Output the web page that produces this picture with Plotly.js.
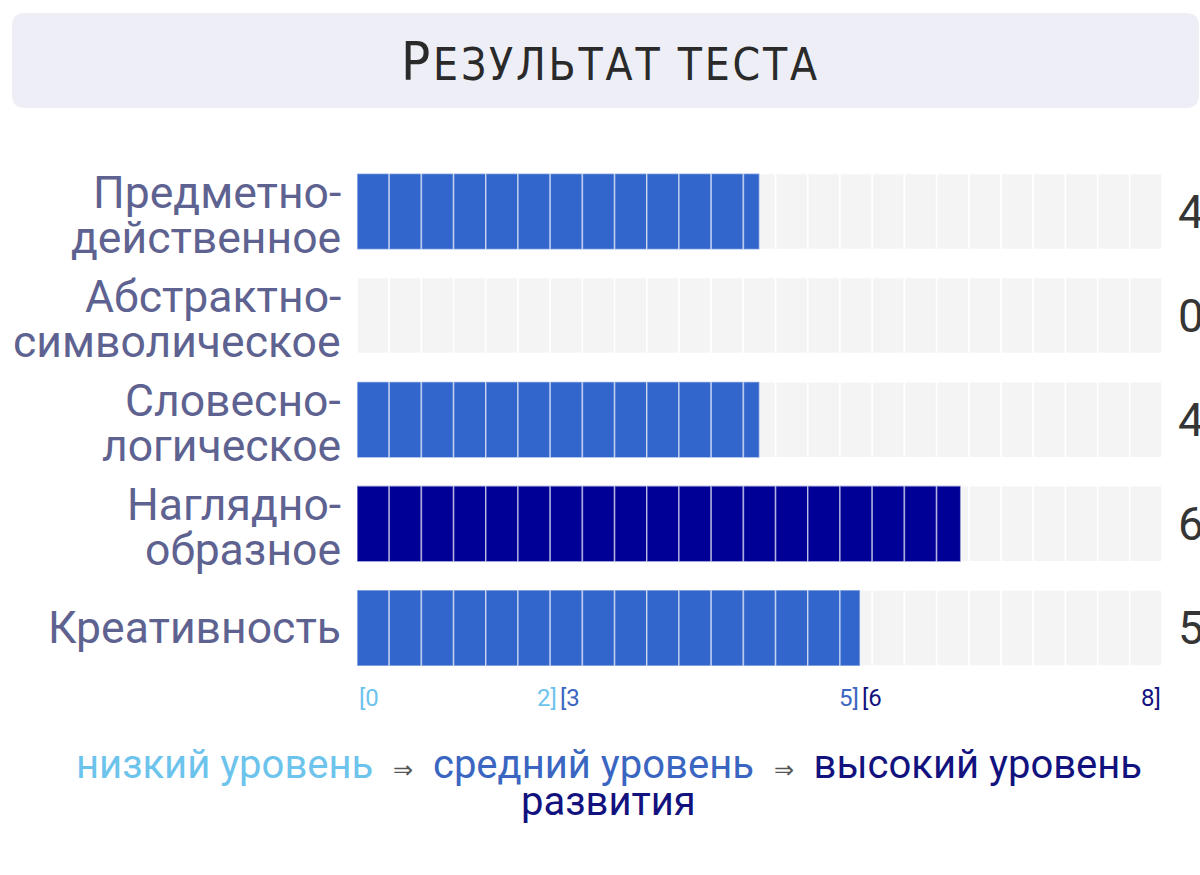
<!DOCTYPE html>
<html>
<head>
<meta charset="utf-8">
<script src="https://cdn.plot.ly/plotly-3.0.1.min.js"></script>
<style>html,body{margin:0;padding:0;background:#fff;}#chart{width:1200px;height:875px;}</style>
</head>
<body>
<div id="chart"></div>
<script>
// ---- data ----
const categories = ["Предметно-<br>действенное", "Абстрактно-<br>символическое", "Словесно-<br>логическое", "Наглядно-<br>образное", "Креативность"];
const values = [4, 0, 4, 6, 5];
const maxValue = 8;
const segmentCount = 25;
const tickPositions = [0, 2, 2, 5, 5, 8];
const tickLabels = ["[0", "2]", "[3", "5]", "[6", "8]"];
const tickLevels = ["low", "low", "mid", "mid", "high", "high"];
const levelNames = ["низкий уровень", "средний уровень", "высокий уровень"];
const levelSuffix = "развития";
const titleText = "Результат теста";

// ---- styles ----
const levelColors = {low: "#6fc5ee", mid: "#3366cc", high: "#000096"};
const levelTextColors = {low: "#6cc3ec", mid: "#3a66c2", high: "#12127e"};
function levelOf(v) { return v <= 2 ? "low" : (v <= 5 ? "mid" : "high"); }

const W = 1200, H = 875;
const M = {l: 357, r: 38, t: 157, b: 195};
const plotW = W - M.l - M.r, plotH = H - M.t - M.b;
const px2x = p => (p - M.l) / plotW;
const py2y = p => (H - M.b - p) / plotH;

const segW = maxValue / segmentCount;

// track trace
const trackY = [], trackBase = [], trackX = [];
categories.forEach(c => {
  for (let k = 0; k < segmentCount; k++) { trackY.push(c); trackBase.push(k * segW); trackX.push(segW); }
});
// value trace
const valY = [], valBase = [], valX = [], valCol = [];
categories.forEach((c, i) => {
  const v = values[i];
  for (let k = 0; k < segmentCount; k++) {
    const start = k * segW;
    if (v > start + 1e-9) {
      valY.push(c); valBase.push(start); valX.push(Math.min(segW, v - start));
      valCol.push(levelColors[levelOf(v)]);
    }
  }
});

const traces = [
  {type: "bar", orientation: "h", y: trackY, x: trackX, base: trackBase,
   marker: {color: "#f4f4f5", line: {color: "#ffffff", width: 1.5}}, hoverinfo: "skip", showlegend: false},
  {type: "bar", orientation: "h", y: valY, x: valX, base: valBase,
   marker: {color: valCol, line: {color: "rgba(255,255,255,0.5)", width: 1.6}}, hoverinfo: "skip", showlegend: false}
];

const annotations = [];
const labelFont = {family: "Roboto, 'Noto Sans', sans-serif", size: 44.5, color: "#5e6290"};
categories.forEach((c, i) => {
  const lines = c.split("<br>");
  const gap = 45;
  const extra = lines.length > 1 ? 4 : 0;
  lines.forEach((ln, j) => {
    const off = (j - (lines.length - 1) / 2) * gap + extra;
    annotations.push({xref: "paper", yref: "y", x: 0, y: c, text: ln, showarrow: false,
      xanchor: "right", yanchor: "middle", xshift: -14, yshift: -off, font: labelFont});
  });
  annotations.push({xref: "x", yref: "y", x: maxValue, y: c, text: String(values[i]), showarrow: false,
    xanchor: "left", yanchor: "middle", xshift: 14, yshift: 0,
    font: {family: "Roboto, sans-serif", size: 46, color: "#353535"}});
});
// tick labels
tickLabels.forEach((t, i) => {
  const isOpen = t.startsWith("[");
  annotations.push({xref: "x", yref: "paper", x: tickPositions[i], y: 0, text: t, showarrow: false,
    xanchor: isOpen ? "left" : "right", yanchor: "middle", yshift: -18, xshift: isOpen ? 0 : 1,
    font: {family: "Roboto, sans-serif", size: 24, color: levelTextColors[tickLevels[i]]}});
});
// legend line
const arrow = '  <span style="font-size:24px;color:#555555">⇒</span>  ';
const legendText = levelNames.map((n, i) =>
  '<span style="color:' + levelTextColors[["low", "mid", "high"][i]] + '">' + n + '</span>').join(arrow);
annotations.push({xref: "paper", yref: "paper", x: px2x(609), y: 0, text: legendText, showarrow: false,
  xanchor: "center", yanchor: "middle", yshift: -84,
  font: {family: "Roboto, sans-serif", size: 40, color: "#333"}});
annotations.push({xref: "paper", yref: "paper", x: px2x(608), y: 0, text: levelSuffix, showarrow: false,
  xanchor: "center", yanchor: "middle", yshift: -121,
  font: {family: "Roboto, sans-serif", size: 40, color: levelTextColors.high}});
// title
const tFirst = titleText.charAt(0).toUpperCase();
const tRest = titleText.slice(1).toUpperCase();
annotations.push({xref: "paper", yref: "paper", x: px2x(610), y: 1, text:
  '<span style="font-size:54px;letter-spacing:2.8px">' + tFirst + '</span><span style="letter-spacing:2.8px">' + tRest + '</span>', showarrow: false,
  xanchor: "center", yanchor: "middle", yshift: 157 - 61,
  font: {family: "'Liberation Sans Narrow', 'DejaVu Sans Condensed', 'Liberation Sans', sans-serif", size: 44, color: "#2a2a2a"}});

// title box (rounded)
function roundRect(x0, y0, x1, y1, r) {
  const P = (x, y) => px2x(x).toFixed(5) + "," + py2y(y).toFixed(5);
  return "M" + P(x0 + r, y0) + " L" + P(x1 - r, y0) + " Q" + P(x1, y0) + " " + P(x1, y0 + r) +
    " L" + P(x1, y1 - r) + " Q" + P(x1, y1) + " " + P(x1 - r, y1) +
    " L" + P(x0 + r, y1) + " Q" + P(x0, y1) + " " + P(x0, y1 - r) +
    " L" + P(x0, y0 + r) + " Q" + P(x0, y0) + " " + P(x0 + r, y0) + " Z";
}
const shapes = [{type: "path", xref: "paper", yref: "paper", path: roundRect(12, 13, 1199, 108, 13),
  fillcolor: "#eeeff6", line: {width: 0}, layer: "below"}];

const layout = {
  width: W, height: H, margin: M,
  paper_bgcolor: "#ffffff", plot_bgcolor: "#ffffff",
  barmode: "overlay", bargap: 0.27,
  xaxis: {range: [0, maxValue], showgrid: false, zeroline: false, showticklabels: false, ticks: "", showline: false, fixedrange: true},
  yaxis: {type: "category", categoryorder: "array", categoryarray: categories, autorange: "reversed",
    showgrid: false, zeroline: false, showticklabels: false, ticks: "", showline: false, fixedrange: true},
  annotations: annotations, shapes: shapes, showlegend: false
};
Plotly.newPlot("chart", traces, layout, {displayModeBar: false, staticPlot: true});
</script>
</body>
</html>
